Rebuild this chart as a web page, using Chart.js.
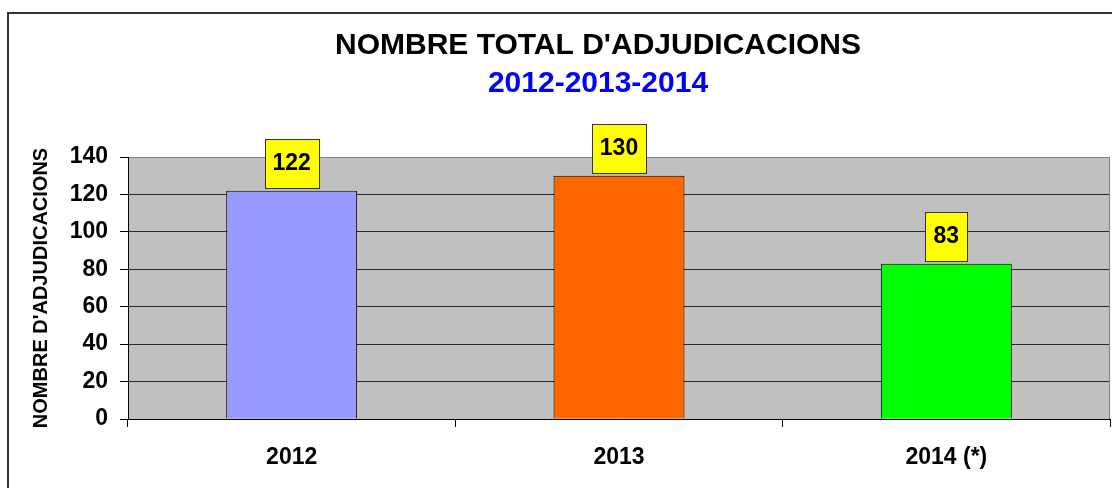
<!DOCTYPE html>
<html>
<head>
<meta charset="utf-8">
<script src="https://cdn.jsdelivr.net/npm/chart.js@4/dist/chart.umd.min.js"></script>
<style>
  html, body { margin: 0; padding: 0; background: #fff; overflow: hidden; width: 1112px; height: 488px; }
  #wrap { position: absolute; left: 0; top: 0; width: 1196px; height: 500px; }
</style>
</head>
<body>
<div id="wrap"><canvas id="c" width="1196" height="500"></canvas></div>
<script>
const categories = ['2012', '2013', '2014 (*)'];
const values = [122, 130, 83];
const barColors = ['#9999FF', '#FF6600', '#00FF00'];
const titleText = "NOMBRE TOTAL D'ADJUDICACIONS";
const subtitleText = '2012-2013-2014';
const yAxisTitle = "NOMBRE D'ADJUDICACIONS";
const yMin = 0, yMax = 140, yStep = 20;

const FONT = "'Liberation Sans', Arial, sans-serif";

const framePlugin = {
  id: 'frame',
  beforeDraw(chart) {
    const { ctx, chartArea: a } = chart;
    ctx.save();
    ctx.fillStyle = '#fff';
    ctx.fillRect(0, 0, chart.width, chart.height);
    ctx.strokeStyle = '#333';
    ctx.lineWidth = 2;
    ctx.strokeRect(8, 13, 1180, 480);
    ctx.fillStyle = '#C0C0C0';
    ctx.fillRect(a.left, a.top, a.right - a.left, a.bottom - a.top);
    ctx.restore();
  },
  beforeDatasetsDraw(chart) {
    const { ctx, chartArea: a } = chart;
    ctx.save();
    ctx.strokeStyle = '#808080';
    ctx.lineWidth = 1;
    ctx.beginPath();
    ctx.moveTo(Math.round(a.right) - 0.5, a.top);
    ctx.lineTo(Math.round(a.right) - 0.5, a.bottom);
    ctx.stroke();
    ctx.restore();
  }
};

const labelPlugin = {
  id: 'boxLabels',
  afterDatasetsDraw(chart) {
    const { ctx } = chart;
    const meta = chart.getDatasetMeta(0);
    ctx.save();
    ctx.font = 'bold 23px ' + FONT;
    ctx.textAlign = 'center';
    ctx.textBaseline = 'middle';
    meta.data.forEach((bar, i) => {
      const txt = String(chart.data.datasets[0].data[i]);
      const w = Math.round(ctx.measureText(txt).width + 16);
      const h = 49;
      const x = Math.round(bar.x - w / 2) + 0.5;
      const y = Math.round(bar.y - 3 - h) + 0.5;
      ctx.fillStyle = '#FFFF00';
      ctx.fillRect(x, y, w, h);
      ctx.strokeStyle = '#333';
      ctx.lineWidth = 1;
      ctx.strokeRect(x, y, w, h);
      ctx.fillStyle = '#000';
      ctx.fillText(txt, bar.x, y + h / 2);
    });
    ctx.restore();
  }
};

new Chart(document.getElementById('c'), {
  type: 'bar',
  data: {
    labels: categories,
    datasets: [{
      data: values,
      backgroundColor: barColors,
      borderColor: '#000',
      borderWidth: 1,
      barPercentage: 0.4,
      categoryPercentage: 1
    }]
  },
  options: {
    responsive: false,
    animation: false,
    devicePixelRatio: 1,
    layout: { padding: 0 },
    plugins: {
      legend: { display: false },
      tooltip: { enabled: false },
      title: {
        display: true,
        text: titleText,
        color: '#000',
        font: { family: FONT, size: 30, weight: 'bold', lineHeight: 1.2 },
        padding: { top: 28, bottom: 0 }
      },
      subtitle: {
        display: true,
        text: subtitleText,
        color: '#0000FF',
        font: { family: FONT, size: 30, weight: 'bold', lineHeight: 1.2 },
        padding: { top: 2, bottom: 55 }
      }
    },
    scales: {
      x: {
        grid: {
          display: true,
          drawOnChartArea: false,
          drawTicks: true,
          tickLength: 8,
          tickColor: '#000',
          offset: true
        },
        border: { display: true, color: '#000', width: 1 },
        ticks: {
          color: '#000',
          font: { family: FONT, size: 23, weight: 'bold' },
          padding: 17
        },
        afterFit(scale) { scale.height = 81; }
      },
      y: {
        min: yMin,
        max: yMax,
        ticks: {
          stepSize: yStep,
          color: '#000',
          font: { family: FONT, size: 23, weight: 'bold' },
          padding: 12
        },
        grid: {
          color: (ctx) => (ctx.tick && ctx.tick.value === yMax) ? '#808080' : '#2a2a2a',
          tickColor: '#000',
          tickLength: 8,
          lineWidth: 1
        },
        border: { display: true, color: '#000', width: 1 },
        title: {
          display: true,
          text: yAxisTitle,
          color: '#000',
          font: { family: FONT, size: 20, weight: 'bold', lineHeight: 1.2 },
          padding: { top: 29, bottom: 0 }
        },
        afterFit(scale) { scale.width = 128; }
      },
      spacer: {
        type: 'linear',
        position: 'right',
        display: true,
        grid: { display: false, drawOnChartArea: false },
        border: { display: false },
        ticks: { display: false },
        afterFit(scale) { scale.width = 86; }
      }
    }
  },
  plugins: [framePlugin, labelPlugin]
});
</script>
</body>
</html>
